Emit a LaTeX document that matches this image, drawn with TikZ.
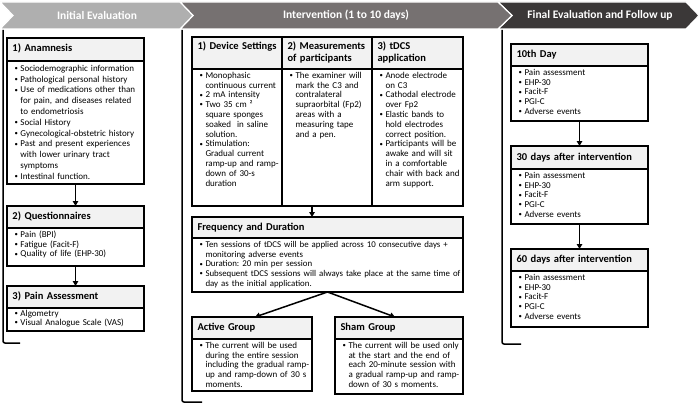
\documentclass[tikz,border=0pt]{standalone}
\usepackage{fontspec}
\setmainfont{Carlito}
\usepackage{enumitem}
\usetikzlibrary{arrows.meta,calc}
\frenchspacing
\definecolor{chevA}{HTML}{AFAFAF}
\definecolor{chevB}{HTML}{767171}
\definecolor{chevC}{HTML}{3B3838}
\definecolor{band}{HTML}{F2F2F2}
\setlist[itemize]{label={\raisebox{0.2ex}{\scalebox{0.75}{\textbullet}}},leftmargin=8pt,labelsep=2.5pt,itemsep=0pt,topsep=0pt,parsep=0pt,partopsep=0pt}
\tikzset{
  chev/.style={draw=white,line width=1.2pt},
  chevtext/.style={text=white,font=\fontsize{11.5}{13}\selectfont\bfseries},
  bracket/.style={line width=1.5pt,rounded corners=2pt},
  titlebox/.style={draw,line width=1.2pt,fill=band,inner xsep=5.5pt,inner ysep=0pt,outer sep=0pt,align=left,font=\fontsize{10.5}{12.5}\selectfont\bfseries,anchor=north west},
  bodybox/.style={draw,line width=1.2pt,anchor=north west,inner sep=0pt,outer sep=0pt},
  bodytext/.style={anchor=north west,inner sep=0pt,outer sep=0pt,font=\fontsize{9}{9.8}\selectfont\frenchspacing,align=left},
  arr/.style={line width=1.5pt,-{Triangle[length=5pt,width=5.5pt]}},
}
\newcommand\mkbox[8]{%
  \node[titlebox,minimum width=#4pt,text width=#4pt-11pt,minimum height=#5pt] (#1t) at (#2,#3) {\begin{tabular}{@{}l@{}}#7\end{tabular}};
  \node[bodybox,minimum width=#4pt,minimum height=#6pt] (#1b) at (#1t.south west) {};
  \node[bodytext,text width=#4pt] (#1x) at ([xshift=5.5pt,yshift=0.5pt]#1b.north west) {\begin{itemize}#8\end{itemize}};
}
\begin{document}
\begin{tikzpicture}[x=1pt,y=-1pt]
\useasboundingbox (0,0) rectangle (700,404);
% header chevrons
\path[chev,fill=chevC] (498,2) -- (686,2) -- (699,15.5) -- (686,29) -- (498,29) -- (512,15.5) -- cycle;
\path[chev,fill=chevB] (180,2) -- (498,2) -- (512,15.5) -- (498,29) -- (180,29) -- (193,15.5) -- cycle;
\path[chev,fill=chevA] (0,2) -- (180,2) -- (193,15.5) -- (180,29) -- (0,29) -- (13,15.5) -- cycle;
\node[chevtext] (h1) at (97,15.5) {Initial Evaluation};
\node[chevtext] (h2) at (346,15.5) {Intervention (1 to 10 days)};
\node[chevtext] (h3) at (600,15.5) {Final Evaluation and Follow up};
% brackets
\draw[bracket] (3,30) -- (3,343) -- (20,343);
\draw[bracket] (182,30) -- (182,402) -- (202,402);
\draw[bracket] (502,30) -- (502,344) -- (521,344);
% left column
\mkbox{an}{7}{38}{137}{23}{123}{1) Anamnesis}{\fontsize{9}{10.8}\selectfont
  \item Sociodemographic information
  \item Pathological personal history
  \item Use of medications other than\\for pain, and diseases related\\to endometriosis
  \item Social History
  \item Gynecological-obstetric history
  \item Past and present experiences\\with lower urinary tract\\symptoms
  \item Intestinal function.}
\mkbox{qt}{7}{206}{137}{22}{38}{2) Questionnaires}{
  \item Pain (BPI)
  \item Fatigue (Facit-F)
  \item Quality of life (EHP-30)}
\mkbox{pa}{7}{286}{137}{22}{23}{3) Pain Assessment}{\fontsize{9}{8.8}\selectfont
  \item Algometry
  \item Visual Analogue Scale (VAS)}
% middle column
\mkbox{ds}{192}{37}{90}{32}{137}{1) Device Settings\\~}{
  \item Monophasic\\continuous current
  \item 2 mA intensity
  \item Two 35 cm ²\\square sponges\\soaked\ \ in saline\\solution.
  \item Stimulation:\\Gradual current\\ramp-up and ramp-\\down of 30-s\\duration}
\mkbox{ms}{282}{37}{90}{32}{137}{2) Measurements\\of participants}{
  \item The examiner will\\mark the C3 and\\contralateral\\supraorbital (Fp2)\\areas with a\\measuring tape\\and a pen.}
\mkbox{td}{372}{37}{91}{32}{137}{3) tDCS\\application}{
  \item Anode electrode\\on C3
  \item Cathodal electrode\\over Fp2
  \item Elastic bands to\\hold electrodes\\correct position.
  \item Participants will be\\awake and will sit\\in a comfortable\\chair with back and\\arm support.}
\mkbox{fq}{192}{217}{271}{21}{54}{Frequency and Duration}{\fontsize{8.85}{9.8}\selectfont
  \item Ten sessions of tDCS will be applied across 10 consecutive days +\\monitoring adverse events
  \item Duration: 20 min per session
  \item Subsequent tDCS sessions will always take place at the same time of\\day as the initial application.}
\mkbox{ac}{192}{317}{120}{22}{52}{Active Group}{
  \item The current will be used\\during the entire session\\including the gradual ramp-\\up and ramp-down of 30 s\\moments.}
\mkbox{sh}{335}{317}{128}{22}{55}{Sham Group}{
  \item The current will be used only\\at the start and the end of\\each 20-minute session with\\a gradual ramp-up and ramp-\\down of 30 s moments.}
% right column
\mkbox{da}{511}{44}{137}{22}{55}{10th Day}{
  \item Pain assessment
  \item EHP-30
  \item Facit-F
  \item PGI-C
  \item Adverse events}
\mkbox{db}{511}{146}{137}{23}{55}{30 days after intervention}{
  \item Pain assessment
  \item EHP-30
  \item Facit-F
  \item PGI-C
  \item Adverse events}
\mkbox{dc}{511}{249}{137}{22}{56}{60 days after intervention}{
  \item Pain assessment
  \item EHP-30
  \item Facit-F
  \item PGI-C
  \item Adverse events}
% connectors
\draw[arr] (anb.south) -- (qtt.north);
\draw[arr] (qtb.south) -- (pat.north);
\draw[arr] ([xshift=-15pt]msb.south) -- ([xshift=-15.5pt]fqt.north);
\draw[arr] (fqb.south) -- ([xshift=3pt]act.north);
\draw[arr] (fqb.south) -- ([xshift=-4pt]sht.north);
\draw[arr] (dab.south) -- (dbt.north);
\draw[arr] (dbb.south) -- (dct.north);
\end{tikzpicture}
\end{document}
